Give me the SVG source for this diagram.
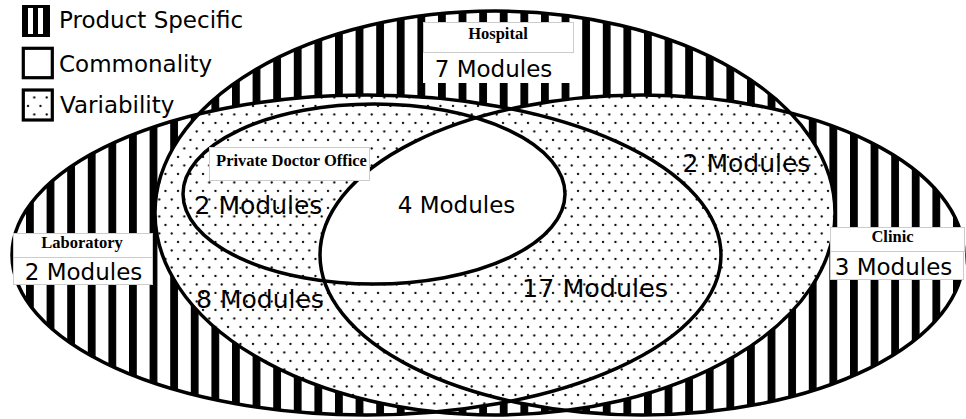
<svg xmlns="http://www.w3.org/2000/svg" width="966" height="419" viewBox="0 0 966 419">
<style>
.ol{fill:none;stroke:#000;stroke-width:3.5}
.mod{font-family:"DejaVu Sans",Verdana,sans-serif;fill:#000;text-anchor:middle}
.ttl{font-family:"Liberation Serif","Times New Roman",serif;font-weight:bold;font-size:16.5px;fill:#000;text-anchor:middle}
.lg{font-family:"DejaVu Sans",Verdana,sans-serif;font-size:23px;fill:#000}
.box{fill:#fff;stroke:#cccccc;stroke-width:1}
.wb{fill:#fff}
.st{fill:url(#stripes)}
.dt{fill:url(#dots)}
</style>
<defs>
<pattern id="stripes" patternUnits="userSpaceOnUse" x="26" y="0" width="20.6" height="20"><rect width="20.6" height="20" fill="#fff"/><rect width="7.8" height="20" fill="#000"/></pattern>
<pattern id="dots" patternUnits="userSpaceOnUse" width="12.5" height="17"><rect width="12.5" height="17" fill="#fff"/><circle cx="3" cy="4" r="1.15" fill="#000"/><circle cx="9.25" cy="12.5" r="1.15" fill="#000"/></pattern>
<clipPath id="cH"><ellipse cx="495" cy="213" rx="340" ry="202"/></clipPath>
<clipPath id="cL"><ellipse cx="366.5" cy="255" rx="354.5" ry="160"/></clipPath>
<clipPath id="cC"><ellipse cx="642" cy="255" rx="322" ry="160"/></clipPath>
</defs>
<rect width="966" height="419" fill="#fff"/>
<g id="fills">
<ellipse class="st" cx="495" cy="213" rx="340" ry="202"/>
<ellipse class="st" cx="366.5" cy="255" rx="354.5" ry="160"/>
<ellipse class="st" cx="642" cy="255" rx="322" ry="160"/>
<g clip-path="url(#cH)">
<ellipse class="dt" cx="366.5" cy="255" rx="354.5" ry="160"/>
<ellipse class="dt" cx="642" cy="255" rx="322" ry="160"/>
</g>
<g clip-path="url(#cL)">
<ellipse class="dt" cx="642" cy="255" rx="322" ry="160"/>
</g>
<g clip-path="url(#cL)"><g clip-path="url(#cC)">
<ellipse fill="#fff" cx="374" cy="194" rx="191" ry="90"/>
</g></g>
</g>
<g id="connectors"></g>
<g id="hospital">
<ellipse class="ol" cx="495" cy="213" rx="340" ry="202" stroke-width="3.8"/>
<rect class="wb" x="423" y="22" width="151" height="61"/>
<rect class="box" x="423.5" y="22.5" width="150" height="30"/>
<text class="ttl" x="498" y="39">Hospital</text>
<text class="mod" x="493.5" y="77" font-size="23">7 Modules</text>
</g>
<g id="laboratory">
<ellipse class="ol" cx="366.5" cy="255" rx="354.5" ry="160"/>
<rect class="wb" x="13" y="233" width="140" height="52"/>
<rect class="box" x="13.5" y="233.5" width="139" height="24"/>
<rect class="box" x="13.5" y="257.5" width="139" height="27"/>
<text class="ttl" x="82" y="248">Laboratory</text>
<text class="mod" x="83.5" y="280" font-size="23">2 Modules</text>
</g>
<g id="clinic">
<ellipse class="ol" cx="642" cy="255" rx="322" ry="160"/>
<rect class="wb" x="830" y="227" width="135" height="53"/>
<rect class="box" x="830.5" y="227.5" width="134" height="24"/>
<rect class="box" x="830.5" y="251.5" width="133" height="28"/>
<text class="ttl" x="892.5" y="242">Clinic</text>
<text class="mod" x="893.5" y="275" font-size="23">3 Modules</text>
</g>
<g id="private-doctor-office">
<ellipse class="ol" cx="374" cy="194" rx="191" ry="90"/>
<rect class="box" x="209.5" y="147.5" width="160" height="33"/>
<text class="ttl" x="291.5" y="166">Private Doctor Office</text>
<text class="mod" x="258.5" y="214" font-size="25">2 Modules</text>
</g>
<g id="region-labels">
<text class="mod" x="456.5" y="213" font-size="23">4 Modules</text>
<text class="mod" x="260" y="308" font-size="25">8 Modules</text>
<text class="mod" x="595" y="297" font-size="25.4">17 Modules</text>
<text class="mod" x="746.5" y="172" font-size="25">2 Modules</text>
</g>
<g id="legend">
<rect x="22" y="5" width="28" height="32" fill="#000"/>
<rect x="28" y="8" width="5" height="26" fill="#fff"/>
<rect x="38" y="8" width="5" height="26" fill="#fff"/>
<text class="lg" x="59" y="28">Product Specific</text>
<rect x="23.3" y="48.3" width="29" height="29.4" fill="#fff" stroke="#000" stroke-width="3.2"/>
<text class="lg" x="59" y="71.5">Commonality</text>
<rect x="23.3" y="90" width="29" height="30" class="dt" stroke="#000" stroke-width="3.2"/>
<text class="lg" x="60" y="113">Variability</text>
</g>
</svg>
